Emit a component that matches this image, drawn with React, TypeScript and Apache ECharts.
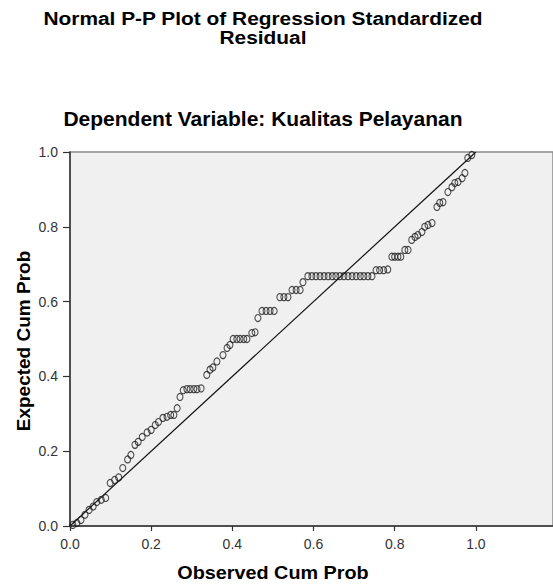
import React, { useEffect, useRef } from "react";
import * as echarts from "echarts";

const titleLines = ["Normal P-P Plot of Regression Standardized", "Residual"];
const subtitle = "Dependent Variable: Kualitas Pelayanan";
const xAxisName = "Observed Cum Prob";
const yAxisName = "Expected Cum Prob";
const tickValues = [0, 0.2, 0.4, 0.6, 0.8, 1.0];

const observedCum = [
  0.007, 0.017, 0.027, 0.037, 0.047, 0.057, 0.066, 0.077, 0.088, 0.099,
  0.11, 0.12, 0.13, 0.142, 0.15, 0.16, 0.168, 0.178, 0.19, 0.2,
  0.21, 0.218, 0.229, 0.239, 0.248, 0.256, 0.264, 0.271, 0.279, 0.288,
  0.296, 0.305, 0.313, 0.323, 0.337, 0.345, 0.352, 0.362, 0.377, 0.387,
  0.394, 0.402, 0.411, 0.419, 0.428, 0.436, 0.448, 0.456, 0.463, 0.473,
  0.483, 0.493, 0.503, 0.517, 0.527, 0.537, 0.547, 0.557, 0.567, 0.574,
  0.586, 0.596, 0.606, 0.616, 0.626, 0.636, 0.646, 0.655, 0.665, 0.675,
  0.685, 0.695, 0.705, 0.715, 0.724, 0.734, 0.744, 0.754, 0.763, 0.773,
  0.783, 0.793, 0.8, 0.808, 0.815, 0.825, 0.833, 0.842, 0.85, 0.857,
  0.867, 0.874, 0.882, 0.892, 0.904, 0.911, 0.919, 0.931, 0.941, 0.948,
  0.956, 0.966, 0.973, 0.98, 0.99,
];

const expectedCum = [
  0.003, 0.008, 0.016, 0.03, 0.043, 0.052, 0.064, 0.07, 0.075, 0.115,
  0.123, 0.13, 0.155, 0.178, 0.19, 0.217, 0.225, 0.238, 0.25, 0.257,
  0.27, 0.278, 0.289, 0.292, 0.297, 0.297, 0.315, 0.345, 0.363, 0.366,
  0.366, 0.366, 0.366, 0.368, 0.404, 0.418, 0.424, 0.44, 0.457, 0.476,
  0.484, 0.5, 0.5, 0.5, 0.5, 0.5, 0.516, 0.518, 0.556, 0.575,
  0.575, 0.575, 0.575, 0.612, 0.612, 0.612, 0.631, 0.631, 0.631, 0.652,
  0.668, 0.668, 0.668, 0.668, 0.668, 0.668, 0.668, 0.668, 0.668, 0.668,
  0.668, 0.668, 0.668, 0.668, 0.668, 0.668, 0.668, 0.684, 0.684, 0.684,
  0.686, 0.72, 0.72, 0.72, 0.72, 0.738, 0.738, 0.765, 0.773, 0.778,
  0.786, 0.8, 0.805, 0.81, 0.853, 0.864, 0.866, 0.893, 0.906, 0.917,
  0.92, 0.93, 0.944, 0.984, 0.992,
];

const diagonal = [
  [0, 0],
  [1, 1],
];

export default function App() {
  const ref = useRef<HTMLDivElement>(null);
  useEffect(() => {
    document.body.style.margin = "0";
    if (!ref.current) return;
    const chart = echarts.init(ref.current, undefined, { renderer: "svg" });
    const pts = observedCum.map((x, i) => [x, expectedCum[i]]);
    const font = "Arial, 'Liberation Sans', sans-serif";
    chart.setOption({
      animation: false,
      backgroundColor: "#ffffff",
      textStyle: { fontFamily: font },
      grid: {
        left: 70,
        top: 152,
        right: -2,
        bottom: 58,
        show: true,
        backgroundColor: "#F0F0F0",
        borderColor: "#8a8a8a",
        borderWidth: 1.5,
      },
      xAxis: {
        type: "value",
        min: 0,
        max: 1.19,
        interval: 0.2,
        splitLine: { show: false },
        axisLine: { show: true, onZero: false, lineStyle: { color: "#333", width: 1.5 } },
        axisTick: { show: true, length: 5, customValues: tickValues, lineStyle: { color: "#333", width: 1.2 } },
        axisLabel: {
          customValues: tickValues,
          margin: 11,
          color: "#333",
          fontSize: 14,
          fontFamily: font,
          formatter: (v: number) => v.toFixed(1),
        },
      },
      yAxis: {
        type: "value",
        min: 0,
        max: 1,
        interval: 0.2,
        splitLine: { show: false },
        axisLine: { show: true, onZero: false, lineStyle: { color: "#333", width: 1.5 } },
        axisTick: { show: true, length: 7, lineStyle: { color: "#333", width: 1.2 } },
        axisLabel: {
          margin: 12,
          color: "#333",
          fontSize: 14,
          fontFamily: font,
          formatter: (v: number) => v.toFixed(1),
        },
      },
      series: [
        {
          type: "line",
          data: diagonal,
          showSymbol: false,
          symbol: "none",
          lineStyle: { color: "#111", width: 1.2 },
          z: 2,
        },
        {
          type: "scatter",
          data: pts,
          symbol: "circle",
          symbolSize: [6, 7],
          itemStyle: { color: "rgba(0,0,0,0)", borderColor: "#1a1a1a", borderWidth: 1.1 },
          z: 3,
        },
      ],
      graphic: [
        {
          type: "text",
          x: 263,
          y: 19,
          scaleX: 1.16,
          style: {
            text: titleLines[0],
            font: `bold 18px ${font}`,
            fill: "#000",
            align: "center",
            verticalAlign: "middle",
          },
        },
        {
          type: "text",
          x: 263,
          y: 38,
          scaleX: 1.16,
          style: {
            text: titleLines[1],
            font: `bold 18px ${font}`,
            fill: "#000",
            align: "center",
            verticalAlign: "middle",
          },
        },
        {
          type: "text",
          x: 263,
          y: 118,
          style: {
            text: subtitle,
            font: `bold 21px ${font}`,
            fill: "#000",
            align: "center",
            verticalAlign: "middle",
          },
        },
        {
          type: "text",
          x: 273,
          y: 573,
          scaleX: 1.1,
          style: {
            text: xAxisName,
            font: `bold 18px ${font}`,
            fill: "#000",
            align: "center",
            verticalAlign: "middle",
          },
        },
        {
          type: "text",
          x: 23,
          y: 341,
          rotation: Math.PI / 2,
          style: {
            text: yAxisName,
            font: `bold 19px ${font}`,
            fill: "#000",
            align: "center",
            verticalAlign: "middle",
          },
        },
      ],
    });
    return () => chart.dispose();
  }, []);
  return <div ref={ref} style={{ width: 553, height: 584 }} />;
}
